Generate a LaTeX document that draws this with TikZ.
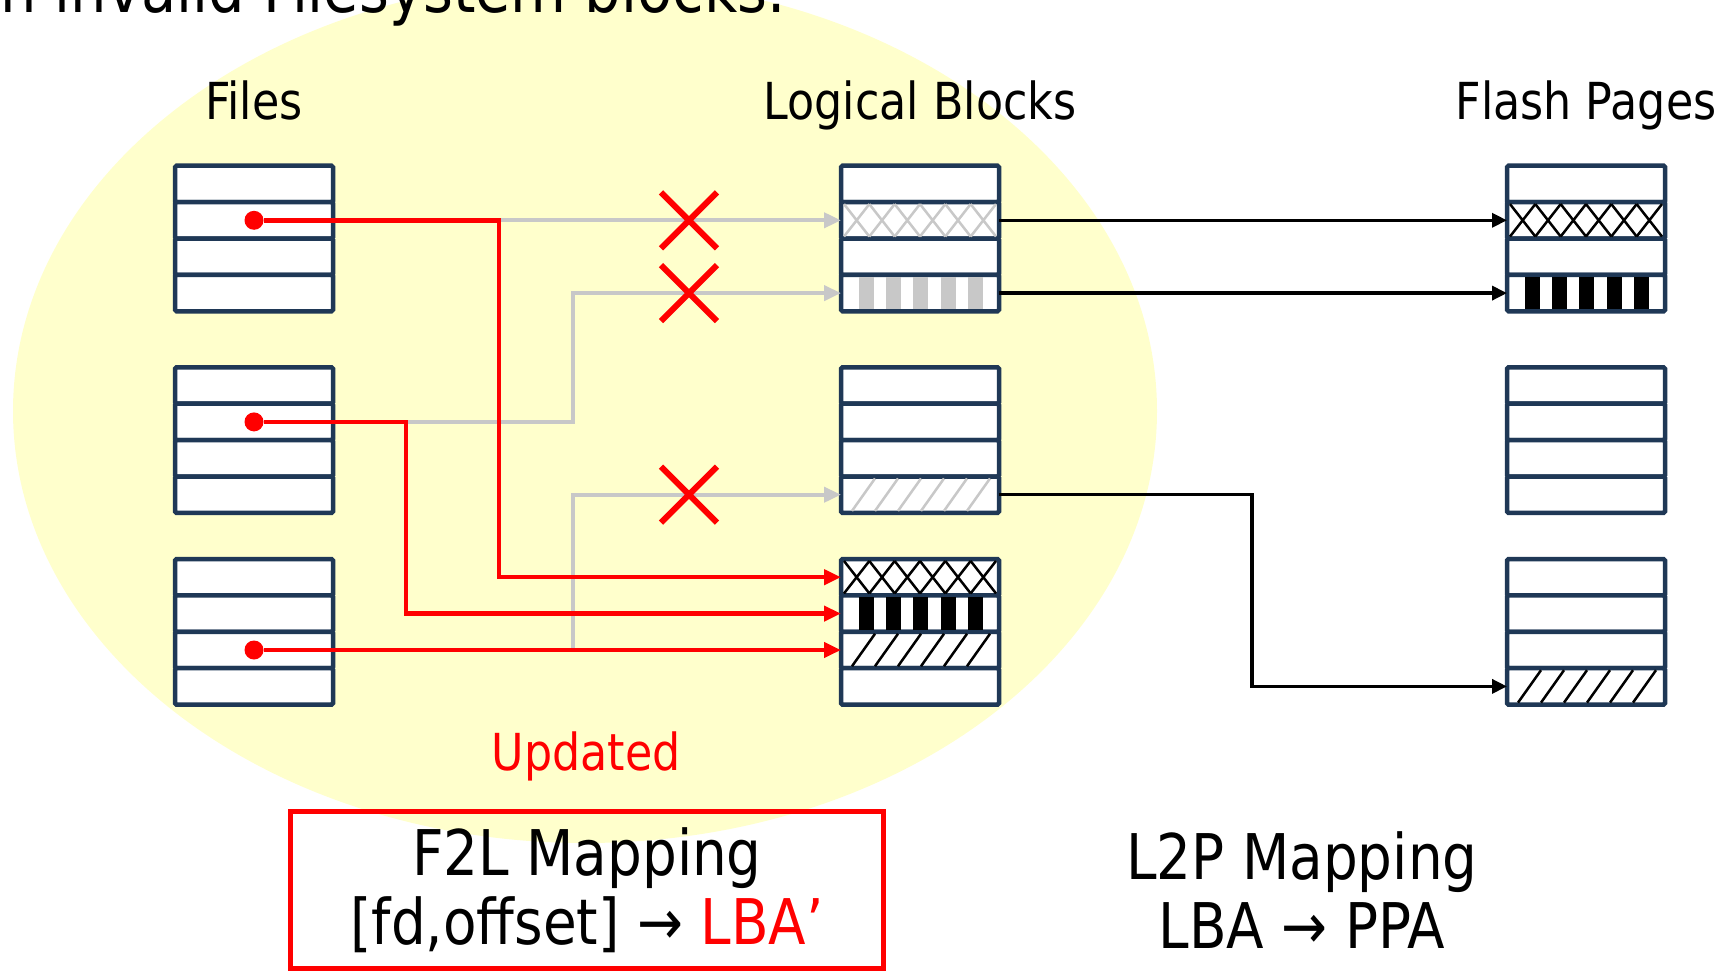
\documentclass[tikz,border=0pt]{standalone}
\usepackage{fontspec}
\setmainfont{DejaVu Sans}[FakeStretch=0.87]
\usetikzlibrary{arrows.meta,shapes.misc,calc}

\definecolor{blockline}{RGB}{31,56,86}
\definecolor{bubble}{RGB}{255,255,204}
\definecolor{stale}{RGB}{200,200,200}

% fillings of one row, drawn from the row's top left corner
\newcommand{\crossrow}[2]{%
  \begin{scope}[shift={(#1.north west)}, color=#2, line width=2.5pt]
    \foreach \i in {0,...,5}
      \draw ({3+25.33*\i},2) -- ({3+25.33*(\i+1)},34.4)
            ({3+25.33*(\i+1)},2) -- ({3+25.33*\i},34.4);
  \end{scope}}
\newcommand{\barsrow}[2]{%
  \begin{scope}[shift={(#1.north west)}]
    \foreach \i in {0,...,4}
      \fill[#2] ({18+27.2*\i},2) rectangle ++(15,32.4);
  \end{scope}}
\newcommand{\slashrow}[2]{%
  \begin{scope}[shift={(#1.north west)}, color=#2, line width=2.5pt]
    \foreach \i in {0,...,5}
      \draw ({11+23*\i},34.4) -- ++(23,-32.4);
  \end{scope}}

\begin{document}
\begin{tikzpicture}[x=1pt, y=-1pt,
    cell/.style={draw=blockline, fill=white, line width=4.5pt, rounded corners=1.5pt,
                 minimum width=158pt, minimum height=36.4pt, inner sep=0pt, outer sep=0pt},
    dot/.style={circle, fill=red, minimum size=19pt, inner sep=0pt},
    upd/.style={red, line width=4.5pt, -{Triangle[length=17pt,width=15pt]}},
    old/.style={stale, line width=4pt, -{Triangle[length=17pt,width=15pt]}},
    map/.style={black, line width=3.5pt, -{Triangle[length=15pt,width=14pt]}},
    cancel/.style={cross out, draw=red, line width=6pt, minimum size=50pt, inner sep=0pt},
    head/.style={font=\fontsize{51}{60}\selectfont, anchor=base},
    mapping/.style={font=\fontsize{63}{69}\selectfont, align=center}]

\useasboundingbox (0,0) rectangle (1721,971);
\clip (0,0) rectangle (1721,971);

\fill[bubble] (585,411) ellipse [x radius=572pt, y radius=432pt];

\node[anchor=base east, font=\fontsize{66}{70}\selectfont] (remark) at (789,13) {n invalid Filesystem blocks.};

\node[head] (files) at (254,120) {Files};
\node[head] (lblocks) at (920,120) {Logical Blocks};
\node[head] (pages) at (1586,120) {Flash Pages};

% three columns of blocks, four rows each
\foreach \cl/\cx in {f/254, l/920, p/1586}
  \foreach \bl/\by in {1/165.7, 2/367.3, 3/559}
    \foreach \rw in {1,...,4}
      \node[cell] (\cl\bl-\rw) at (\cx, {\by+36.4*\rw-18.2}) {};

\crossrow{l1-2}{stale}
\barsrow{l1-4}{stale}
\slashrow{l2-4}{stale}
\crossrow{l3-1}{black}
\barsrow{l3-2}{black}
\slashrow{l3-3}{black}
\crossrow{p1-2}{black}
\barsrow{p1-4}{black}
\slashrow{p3-4}{black}

\node[dot] (d1) at (f1-2) {};
\node[dot] (d2) at (f2-2) {};
\node[dot] (d3) at (f3-3) {};

\coordinate (k1) at ($(d1)+(245,0)$);
\coordinate (k2) at ($(d2)+(152,0)$);
\coordinate (k3) at ($(d3)+(319,0)$);

% old file to logical mapping
\draw[old] (k1) -- (l1-2);
\draw[old] (k2) -- ++(167,0) |- (l1-4);
\draw[old] (k3) |- (l2-4);

\node[cancel] (x1) at ($(l1-2)+(-231,0)$) {};
\node[cancel] (x2) at ($(l1-4)+(-231,0)$) {};
\node[cancel] (x3) at ($(l2-4)+(-231,0)$) {};

% updated mapping
\draw[upd] (d1) -- (k1) |- (l3-1);
\draw[upd] (d2) -- (k2) |- (l3-2);
\draw[upd] (d3) -- (l3-3);

% logical to flash
\draw[map] (l1-2) -- (p1-2);
\draw[map] (l1-4) -- (p1-4);
\draw[map] (l2-4.east) -- ++(253,0) |- (p3-4);

\node[head, red] (updnote) at (586,770) {Updated};

\node[mapping, draw=red, line width=5pt, minimum width=593pt, minimum height=157pt] (f2l) at (587,890)
  {F2L Mapping\\{}[fd,offset] → \textcolor{red}{LBA’}};
\node[mapping] (l2p) at (1302,890) {L2P Mapping\\LBA → PPA};
\end{tikzpicture}
\end{document}
